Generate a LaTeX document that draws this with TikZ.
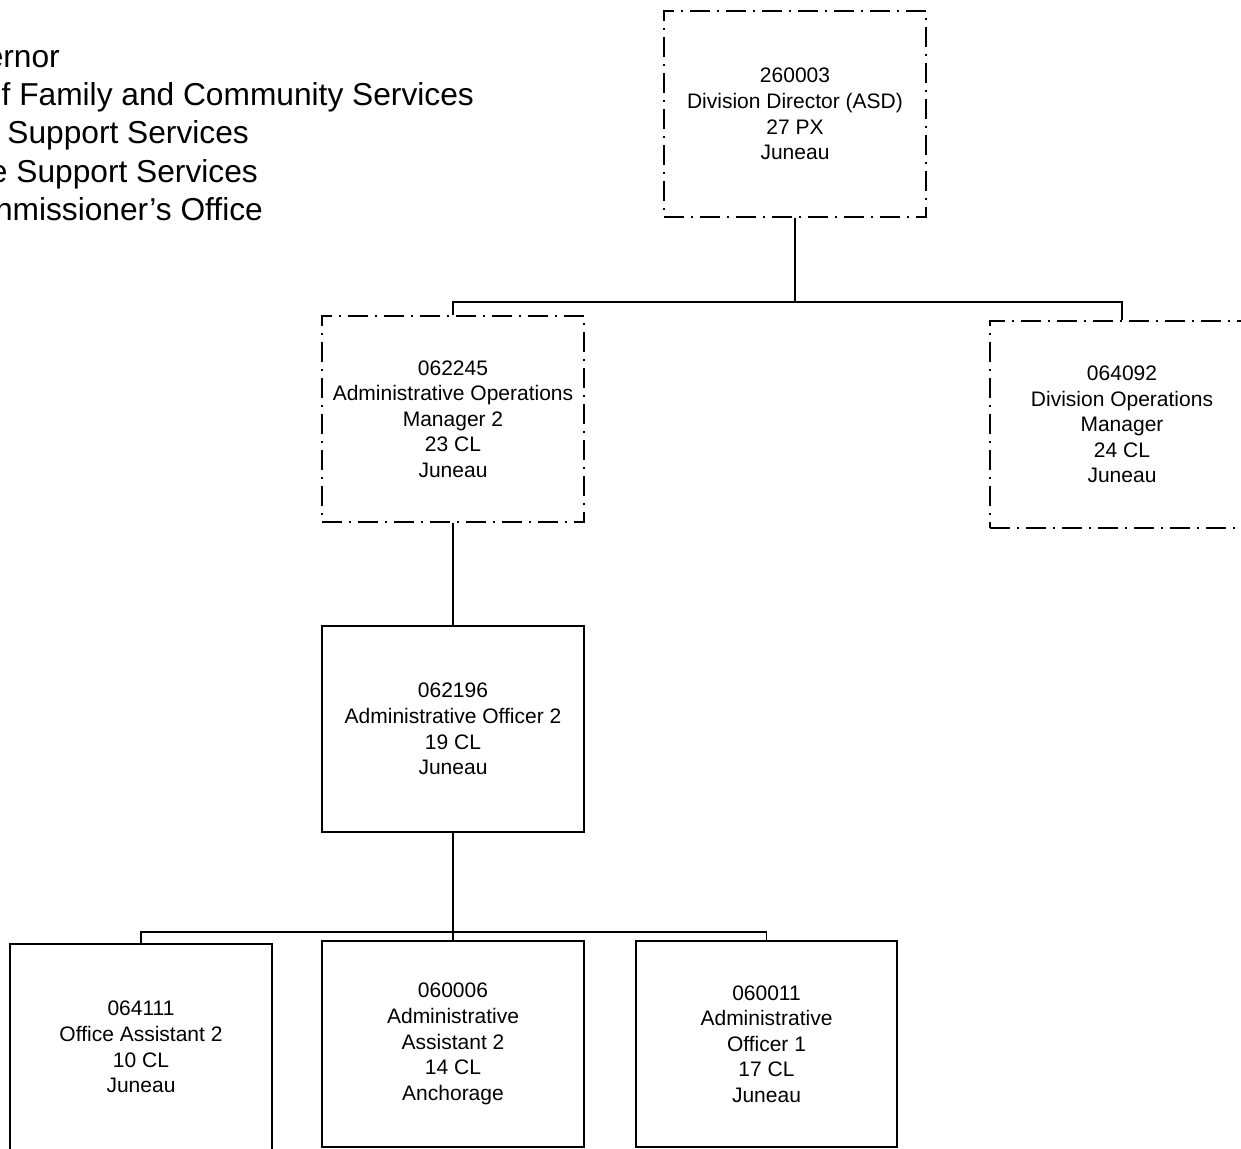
\documentclass[tikz,border=0pt]{standalone}
\usepackage{fontspec}
\setmainfont{Liberation Sans}
\begin{document}
\begin{tikzpicture}[x=1pt,y=-1pt,
 posbox/.style={draw, line width=1.6pt, minimum width=262pt, minimum height=206pt, inner sep=0pt, align=center, font=\fontsize{21}{25.6}\selectfont},
 vacant/.style={posbox, dash pattern=on 20pt off 7pt on 2pt off 7pt},
 conn/.style={line width=1.6pt},
 hdr/.style={anchor=base east, inner sep=0pt, font=\fontsize{31.7}{38}\selectfont}]
\clip (0,0) rectangle (1241,1148);
% header
\node[hdr] (h1) at (60,67) {ernor};
\node[hdr] (h2) at (474,105.3) {f Family and Community Services};
\node[hdr] (h3) at (249,143.6) {Support Services};
\node[hdr] (h4) at (258,182) {e Support Services};
\node[hdr] (h5) at (263,220) {nmissioner’s Office};
% positions
\node[vacant] (top) at (795,114) {260003\\Division Director (ASD)\\27 PX\\Juneau};
\node[vacant] (aom) at (453,419) {062245\\Administrative Operations\\Manager 2\\23 CL\\Juneau};
\node[vacant, minimum width=264pt, minimum height=207pt] (dom) at (1122,424.5) {064092\\Division Operations\\Manager\\24 CL\\Juneau};
\node[posbox] (ao2) at (453,729) {062196\\Administrative Officer 2\\19 CL\\Juneau};
\node[posbox] (oa2) at (141,1047) {064111\\Office Assistant 2\\10 CL\\Juneau};
\node[posbox] (aa2) at (453,1044) {060006\\Administrative\\Assistant 2\\14 CL\\Anchorage};
\node[posbox, minimum width=261pt] (ao1) at (766.5,1044) {060011\\Administrative\\Officer 1\\17 CL\\Juneau};
% connectors
\coordinate (j1) at (795,302);
\coordinate (j2) at (453,932);
\draw[conn] (top.south) -- (j1);
\draw[conn] (aom.north) |- (j1) -| (dom.north);
\draw[conn] (aom.south) -- (ao2.north);
\draw[conn] (ao2.south) -- (aa2.north);
\draw[conn] (oa2.north) |- (j2) -| (ao1.north);
\end{tikzpicture}
\end{document}
